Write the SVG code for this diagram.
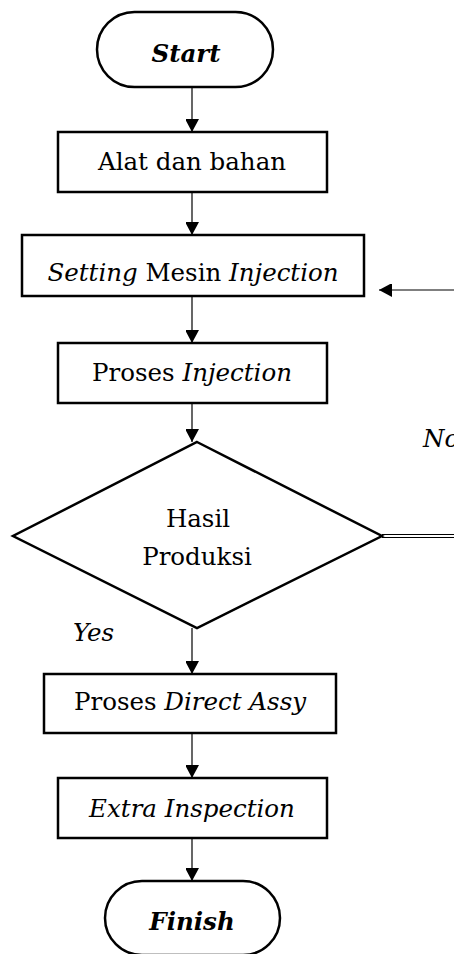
<svg xmlns="http://www.w3.org/2000/svg" width="454" height="954" viewBox="0 0 454 954">
<defs>
<marker id="ah" markerWidth="14" markerHeight="13" refX="13" refY="7" orient="auto" markerUnits="userSpaceOnUse">
<path d="M0,0 L13,7 L0,14 Z" fill="#000"/>
</marker>
<style>
.box{fill:#fff;stroke:#000;stroke-width:2.5}
.ln{fill:none;stroke:#000;stroke-width:1.2}
.t{font-family:"DejaVu Serif",serif;font-size:24.5px;fill:#000;text-anchor:middle}
.i{font-style:italic}
.b{font-weight:bold;font-style:italic}
</style>
</defs>
<rect width="454" height="954" fill="#fff"/>
<g id="connectors">
<line class="ln" x1="192" y1="87" x2="192" y2="132" marker-end="url(#ah)"/>
<line class="ln" x1="192" y1="192" x2="192" y2="235" marker-end="url(#ah)"/>
<line class="ln" x1="192" y1="296" x2="192" y2="343" marker-end="url(#ah)"/>
<line class="ln" x1="192" y1="403" x2="192" y2="442" marker-end="url(#ah)"/>
<line class="ln" x1="192" y1="628" x2="192" y2="674" marker-end="url(#ah)"/>
<line class="ln" x1="192" y1="733" x2="192" y2="778" marker-end="url(#ah)"/>
<line class="ln" x1="192" y1="838" x2="192" y2="881" marker-end="url(#ah)"/>
<line class="ln" x1="454" y1="290" x2="379" y2="290" marker-end="url(#ah)"/>
<line class="ln" x1="382" y1="534.5" x2="454" y2="534.5"/>
<line class="ln" x1="382" y1="537.5" x2="454" y2="537.5"/>
<text class="t i" x="423" y="447" style="text-anchor:start">No</text>
<text class="t i" x="73" y="641" style="text-anchor:start">Yes</text>
</g>
<g id="start">
<rect class="box" x="97" y="12" width="176" height="75" rx="37.5"/>
<text class="t b" x="186" y="62">Start</text>
</g>
<g id="alat">
<rect class="box" x="58" y="132" width="269" height="60"/>
<text class="t" x="192" y="170">Alat dan bahan</text>
</g>
<g id="setting">
<rect class="box" x="22" y="235" width="342" height="61"/>
<text class="t" x="193" y="281"><tspan class="i">Setting</tspan> Mesin <tspan class="i">Injection</tspan></text>
</g>
<g id="proses-injection">
<rect class="box" x="58" y="343" width="269" height="60"/>
<text class="t" x="192" y="381">Proses <tspan class="i">Injection</tspan></text>
</g>
<g id="hasil">
<polygon class="box" points="197,442 382,536 197,628 13,536"/>
<text class="t" x="198" y="527">Hasil</text>
<text class="t" x="197" y="565">Produksi</text>
</g>
<g id="direct-assy">
<rect class="box" x="44" y="674" width="292" height="59"/>
<text class="t" x="190" y="710">Proses <tspan class="i">Direct Assy</tspan></text>
</g>
<g id="extra">
<rect class="box" x="58" y="778" width="269" height="60"/>
<text class="t i" x="192" y="817">Extra Inspection</text>
</g>
<g id="finish">
<rect class="box" x="105" y="881" width="175" height="74" rx="37"/>
<text class="t b" x="192" y="930">Finish</text>
</g>
</svg>
